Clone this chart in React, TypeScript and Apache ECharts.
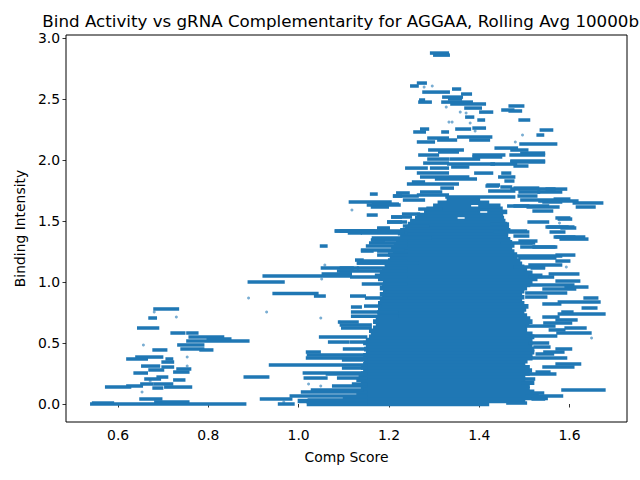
// Scatter of binding intensity vs comp score, dense horizontal runs of points
import React, { useRef, useEffect } from 'react';
import * as echarts from 'echarts';

const TITLE = 'Bind Activity vs gRNA Complementarity for AGGAA, Rolling Avg 10000bp';
const xTicks = [0.6, 0.8, 1.0, 1.2, 1.4, 1.6];
const yTicks = [0, 0.5, 1.0, 1.5, 2.0, 2.5, 3.0];

// dense core of the cloud, one run per row: [xStart, xEnd, y]
const coreRuns = [
  [1.02, 1.42, 0.0], [1.0, 1.5, 0.025], [1.1, 1.55, 0.05], [1.13, 1.53, 0.075],
  [1.14, 1.52, 0.1], [1.14, 1.51, 0.125], [1.15, 1.51, 0.15], [1.14, 1.52, 0.175],
  [1.13, 1.5, 0.2], [1.135, 1.5, 0.225], [1.14, 1.51, 0.25], [1.145, 1.515, 0.275],
  [1.14, 1.51, 0.3], [1.145, 1.5, 0.325], [1.147, 1.505, 0.35], [1.151, 1.516, 0.375],
  [1.145, 1.516, 0.4], [1.151, 1.52, 0.425], [1.147, 1.52, 0.45], [1.151, 1.516, 0.475],
  [1.145, 1.51, 0.5], [1.151, 1.516, 0.525], [1.158, 1.52, 0.55], [1.162, 1.516, 0.575],
  [1.158, 1.504, 0.6], [1.167, 1.504, 0.625], [1.173, 1.509, 0.65], [1.167, 1.516, 0.675],
  [1.173, 1.511, 0.7], [1.178, 1.504, 0.725], [1.176, 1.498, 0.75], [1.178, 1.502, 0.775],
  [1.182, 1.507, 0.8], [1.178, 1.498, 0.825], [1.182, 1.493, 0.85], [1.187, 1.498, 0.875],
  [1.182, 1.493, 0.9], [1.189, 1.498, 0.925], [1.182, 1.504, 0.95], [1.187, 1.511, 0.975],
  [1.189, 1.516, 1.0], [1.178, 1.527, 1.025], [1.171, 1.538, 1.05], [1.182, 1.516, 1.075],
  [1.187, 1.504, 1.1], [1.193, 1.498, 1.125], [1.193, 1.493, 1.15], [1.2, 1.489, 1.175],
  [1.204, 1.482, 1.2], [1.2, 1.482, 1.225], [1.211, 1.476, 1.25], [1.207, 1.471, 1.275],
  [1.213, 1.476, 1.3], [1.218, 1.471, 1.325], [1.224, 1.467, 1.35], [1.227, 1.462, 1.375],
  [1.222, 1.462, 1.4], [1.227, 1.467, 1.425], [1.238, 1.464, 1.45], [1.244, 1.46, 1.475],
  [1.249, 1.456, 1.5], [1.26, 1.35, 1.525], [1.37, 1.453, 1.525], [1.264, 1.451, 1.55],
  [1.28, 1.4, 1.575], [1.42, 1.46, 1.575], [1.285, 1.45, 1.6], [1.3, 1.38, 1.625],
  [1.4, 1.445, 1.625], [1.31, 1.42, 1.65], [1.33, 1.4, 1.675],
];

// loose runs around the core and in the low-score cluster: [xStart, xEnd, y]
const runs = [
  // low-score cluster
  [0.68, 0.733, 0.779], [0.669, 0.684, 0.705], [0.644, 0.689, 0.623], [0.718, 0.747, 0.582],
  [0.753, 0.776, 0.582], [0.758, 0.833, 0.549], [0.798, 0.849, 0.533], [0.753, 0.889, 0.516],
  [0.733, 0.789, 0.484], [0.74, 0.789, 0.451], [0.782, 0.809, 0.443], [0.678, 0.707, 0.443],
  [0.64, 0.698, 0.385], [0.62, 0.664, 0.369], [0.707, 0.72, 0.369], [0.698, 0.722, 0.344],
  [0.653, 0.691, 0.311], [0.698, 0.722, 0.303], [0.731, 0.76, 0.287], [0.669, 0.7, 0.279],
  [0.724, 0.756, 0.262], [0.636, 0.664, 0.254], [0.687, 0.709, 0.221], [0.66, 0.693, 0.205],
  [0.724, 0.747, 0.197], [0.651, 0.676, 0.164], [0.68, 0.72, 0.164], [0.573, 0.627, 0.139],
  [0.62, 0.653, 0.148], [0.704, 0.762, 0.139], [0.678, 0.698, 0.131], [0.649, 0.696, 0.041],
  [0.682, 0.756, 0.016], [0.54, 0.882, 0.0], [0.544, 0.589, 0.008],
  // gap region
  [0.889, 0.967, 1.0], [0.944, 1.042, 0.905], [1.036, 1.058, 0.885], [0.88, 0.933, 0.221],
  [0.936, 1.15, 0.32], [1.018, 1.047, 0.426], [1.02, 1.15, 0.402], [1.018, 1.15, 0.377],
  [1.047, 1.15, 0.549], [1.067, 1.111, 0.508], [1.011, 1.15, 0.254], [1.013, 1.062, 0.213],
  [0.916, 0.984, 0.041], [0.956, 0.989, 0.0], [0.982, 1.15, 0.066], [1.007, 1.15, 0.098],
  [1.02, 1.15, 0.016], [1.022, 1.15, 0.033], [1.022, 1.15, 0.0], [1.076, 1.15, 0.148],
  [1.029, 1.142, 0.115], [1.12, 1.15, 0.164], [1.087, 1.15, 0.213], [1.062, 1.15, 0.246],
  [1.098, 1.15, 0.295], [1.098, 1.15, 0.361], [1.1, 1.15, 0.451], [1.116, 1.15, 0.508],
  [1.089, 1.131, 0.672], [1.093, 1.16, 0.648], [1.096, 1.16, 0.623], [1.118, 1.22, 0.754],
  [1.118, 1.22, 0.72], [1.118, 1.138, 0.795], [1.147, 1.182, 0.803],
  // left flank of the core
  [1.16, 1.173, 1.721], [1.211, 1.227, 1.705], [1.113, 1.204, 1.656], [1.153, 1.224, 1.631],
  [1.162, 1.198, 1.615], [1.153, 1.173, 1.549], [1.207, 1.227, 1.533], [1.198, 1.227, 1.492],
  [1.176, 1.2, 1.434], [1.082, 1.176, 1.418], [1.111, 1.138, 1.402], [1.14, 1.24, 1.402],
  [1.162, 1.24, 1.344], [1.158, 1.24, 1.32], [1.151, 1.24, 1.295], [1.049, 1.062, 1.295],
  [1.14, 1.164, 1.254], [1.176, 1.24, 1.254], [1.176, 1.24, 1.221], [1.127, 1.142, 1.18],
  [1.138, 1.24, 1.172], [1.131, 1.24, 1.156], [1.051, 1.12, 1.115], [1.131, 1.24, 1.115],
  [1.087, 1.24, 1.09], [1.053, 1.116, 1.066], [0.922, 1.116, 1.049], [1.116, 1.24, 1.041],
  [1.142, 1.24, 0.984], [1.116, 1.147, 0.885], [1.149, 1.24, 0.869], [1.093, 1.167, 1.418],
  [1.176, 1.233, 1.41], [1.164, 1.189, 1.344], [1.14, 1.233, 1.262], [1.131, 1.264, 1.156],
  [1.093, 1.131, 1.115], [1.093, 1.116, 1.074], [1.164, 1.293, 1.361],
  // upper tail
  [1.293, 1.331, 2.877], [1.3, 1.333, 2.86],
  [1.264, 1.282, 2.631], [1.249, 1.264, 2.607], [1.342, 1.358, 2.582], [1.276, 1.333, 2.557],
  [1.362, 1.382, 2.541], [1.32, 1.362, 2.516], [1.333, 1.36, 2.5], [1.269, 1.278, 2.492],
  [1.267, 1.293, 2.475], [1.318, 1.384, 2.475], [1.338, 1.413, 2.459], [1.467, 1.498, 2.443],
  [1.369, 1.404, 2.426], [1.451, 1.476, 2.41], [1.467, 1.493, 2.402], [1.402, 1.429, 2.393],
  [1.371, 1.387, 2.352], [1.398, 1.411, 2.328], [1.489, 1.511, 2.328], [1.387, 1.413, 2.262],
  [1.349, 1.38, 2.254], [1.271, 1.287, 2.254], [1.536, 1.562, 2.246], [1.256, 1.28, 2.23],
  [1.318, 1.331, 2.23], [1.529, 1.542, 2.205], [1.353, 1.427, 2.189], [1.287, 1.331, 2.18],
  [1.309, 1.349, 2.164], [1.38, 1.422, 2.164], [1.264, 1.3, 2.148], [1.491, 1.571, 2.131],
  [1.436, 1.484, 2.098], [1.289, 1.364, 2.082], [1.471, 1.507, 2.082], [1.311, 1.353, 2.066],
  [1.493, 1.544, 2.057], [1.267, 1.309, 2.041], [1.387, 1.456, 2.041], [1.469, 1.544, 2.041],
  [1.387, 1.449, 2.025], [1.287, 1.331, 2.008], [1.336, 1.4, 2.008], [1.471, 1.544, 1.992],
  [1.471, 1.544, 1.984], [1.278, 1.331, 1.975], [1.331, 1.433, 1.967], [1.427, 1.482, 1.967],
  [1.478, 1.507, 1.951], [1.34, 1.376, 1.943], [1.238, 1.284, 1.934], [1.293, 1.331, 1.934],
  [1.264, 1.331, 1.893], [1.391, 1.429, 1.893], [1.451, 1.469, 1.893], [1.271, 1.376, 1.861],
  [1.444, 1.478, 1.861], [1.304, 1.393, 1.844], [1.458, 1.476, 1.828], [1.253, 1.278, 1.82],
  [1.242, 1.353, 1.803], [1.418, 1.444, 1.795], [1.416, 1.442, 1.787], [1.449, 1.471, 1.779],
  [1.316, 1.342, 1.77], [1.478, 1.531, 1.77], [1.549, 1.593, 1.762], [1.471, 1.567, 1.762],
  [1.422, 1.478, 1.746], [1.271, 1.316, 1.738], [1.489, 1.533, 1.738], [1.531, 1.582, 1.738],
  [1.218, 1.244, 1.73], [1.264, 1.331, 1.713], [1.211, 1.264, 1.705], [1.487, 1.527, 1.705],
  [1.327, 1.478, 1.697], [1.567, 1.6, 1.68], [1.233, 1.278, 1.672], [1.493, 1.576, 1.672],
  [1.533, 1.618, 1.664], [1.542, 1.582, 1.656], [1.609, 1.673, 1.648], [1.164, 1.22, 1.639],
  [1.478, 1.553, 1.623], [1.464, 1.509, 1.623], [1.616, 1.656, 1.615], [1.507, 1.576, 1.615],
  [1.267, 1.316, 1.598], [1.52, 1.562, 1.582], [1.231, 1.267, 1.557], [1.207, 1.249, 1.533],
  [1.571, 1.6, 1.525], [1.576, 1.604, 1.516], [1.198, 1.238, 1.492], [1.509, 1.553, 1.492],
  [1.427, 1.464, 1.475], [1.233, 1.287, 1.459], [1.549, 1.609, 1.451], [1.553, 1.596, 1.451],
  [1.176, 1.2, 1.443], [1.582, 1.613, 1.443], [1.082, 1.233, 1.418], [1.444, 1.504, 1.418],
  [1.433, 1.509, 1.41], [1.558, 1.589, 1.41],
  // right flank of the core
  [1.478, 1.509, 1.377], [1.567, 1.633, 1.369], [1.571, 1.611, 1.369], [1.58, 1.64, 1.352],
  [1.489, 1.527, 1.336], [1.493, 1.522, 1.32], [1.449, 1.516, 1.32], [1.52, 1.571, 1.287],
  [1.493, 1.567, 1.287], [1.571, 1.611, 1.221], [1.478, 1.582, 1.213], [1.489, 1.569, 1.197],
  [1.571, 1.6, 1.172], [1.511, 1.582, 1.139], [1.478, 1.544, 1.123], [1.516, 1.544, 1.115],
  [1.556, 1.62, 1.066], [1.511, 1.564, 1.041], [1.571, 1.622, 1.008], [1.507, 1.609, 0.975],
  [1.591, 1.64, 0.959], [1.542, 1.613, 0.943], [1.504, 1.593, 0.91], [1.504, 1.549, 0.877],
  [1.633, 1.662, 0.869], [1.576, 1.667, 0.836], [1.542, 1.58, 0.82], [1.629, 1.66, 0.787],
  [1.584, 1.607, 0.754], [1.576, 1.678, 0.738], [1.542, 1.576, 0.713], [1.571, 1.616, 0.689],
  [1.544, 1.604, 0.664], [1.504, 1.567, 0.639], [1.591, 1.636, 0.623], [1.556, 1.589, 0.607],
  [1.573, 1.647, 0.582], [1.504, 1.571, 0.557], [1.511, 1.553, 0.5], [1.522, 1.556, 0.467],
  [1.571, 1.604, 0.451], [1.544, 1.587, 0.426], [1.527, 1.564, 0.41], [1.518, 1.593, 0.377],
  [1.571, 1.624, 0.328], [1.542, 1.609, 0.303], [1.527, 1.556, 0.262], [1.504, 1.569, 0.246],
  [1.5, 1.522, 0.205], [1.496, 1.511, 0.172], [1.584, 1.678, 0.115], [1.518, 1.542, 0.09],
  [1.504, 1.584, 0.066], [1.518, 1.544, 0.041], [1.462, 1.504, 0.008],
];

// isolated points: [x, y]
const dots = [
  [0.653, 0.098], [0.671, 0.189], [0.68, 0.754], [0.729, 0.713], [0.753, 0.385],
  [0.656, 0.484], [0.753, 0.311], [0.889, 0.869], [0.929, 0.754], [1.049, 0.705],
  [1.091, 0.672], [1.022, 0.164], [1.049, 0.148], [0.967, 0.016], [1.118, 1.59],
  [1.058, 1.139], [1.051, 1.025], [1.278, 2.598], [1.296, 2.607], [1.327, 2.434],
  [1.358, 2.393], [1.371, 2.385], [1.333, 2.311], [1.34, 2.311], [1.38, 2.303],
  [1.391, 2.238], [1.496, 2.205], [1.48, 2.148], [1.578, 1.484], [1.593, 1.123],
  [1.649, 0.541],
];

const BLUE = '#1f77b4';
const FONT = 'DejaVu Sans';

// one horizontal run of overlapping markers, drawn as a bar of given pixel height
const makeRun = (h: number) => (params: any, api: any) => {
  const a = api.coord([api.value(0), api.value(2)]);
  const b = api.coord([api.value(1), api.value(2)]);
  return {
    type: 'rect',
    shape: { x: a[0] - 1, y: a[1] - h / 2, width: b[0] - a[0] + 2, height: h },
    style: { fill: BLUE },
  };
};

export default function App() {
  const chartRef = useRef<HTMLDivElement>(null);

  useEffect(() => {
    if (!chartRef.current) return;
    const chart = echarts.init(chartRef.current, null, { renderer: 'svg' });

    const option: any = {
      animation: false,
      backgroundColor: '#fff',
      grid: {
        left: 66, right: 13, top: 35, bottom: 58,
        show: true, borderColor: '#000', borderWidth: 1, backgroundColor: 'transparent',
      },
      graphic: [
        {
          type: 'text', x: 346, y: 21,
          style: {
            text: TITLE, fontSize: 16.7, fontFamily: FONT, fill: '#000',
            textAlign: 'center', textVerticalAlign: 'middle',
          },
        },
      ],
      xAxis: {
        type: 'value', min: 0.4845, max: 1.7275,
        name: 'Comp Score', nameLocation: 'middle', nameGap: 28,
        nameTextStyle: { fontSize: 13.9, fontFamily: FONT, color: '#000' },
        axisLine: { show: false },
        splitLine: { show: false },
        axisTick: { show: true, length: 3.5, customValues: xTicks, lineStyle: { color: '#000', width: 0.8 } },
        axisLabel: {
          customValues: xTicks, margin: 6, fontSize: 13.9, fontFamily: FONT, color: '#000',
          formatter: (v: number) => v.toFixed(1),
        },
      },
      yAxis: {
        type: 'value', min: -0.1475, max: 3.025,
        name: 'Binding Intensity', nameLocation: 'middle', nameGap: 38,
        nameTextStyle: { fontSize: 13.9, fontFamily: FONT, color: '#000' },
        axisLine: { show: false },
        splitLine: { show: false },
        axisTick: { show: true, length: 3.5, customValues: yTicks, lineStyle: { color: '#000', width: 0.8 } },
        axisLabel: {
          customValues: yTicks, margin: 6, fontSize: 13.9, fontFamily: FONT, color: '#000',
          formatter: (v: number) => v.toFixed(1),
        },
      },
      series: [
        {
          type: 'custom', data: coreRuns, encode: { x: [0, 1], y: 2 },
          renderItem: makeRun(4.6), clip: true, silent: true,
        },
        {
          type: 'custom', data: runs, encode: { x: [0, 1], y: 2 },
          renderItem: makeRun(3.5), clip: true, silent: true,
        },
        {
          type: 'scatter', data: dots, symbolSize: 3, silent: true,
          itemStyle: { color: BLUE, opacity: 0.6 },
        },
      ],
    };

    chart.setOption(option);
    return () => chart.dispose();
  }, []);

  return (
    <div
      ref={chartRef}
      style={{ position: 'fixed', left: 0, top: 0, width: 640, height: 480, background: '#fff' }}
    />
  );
}
